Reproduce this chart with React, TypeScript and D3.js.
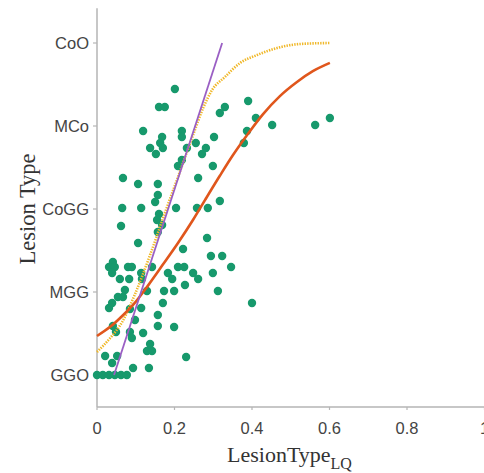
import React from "react";
import * as d3 from "d3";

const categories = ["GGO", "MGG", "CoGG", "MCo", "CoO"];
const xTicks = [0, 0.2, 0.4, 0.6, 0.8, 1];

// scatter: LesionType_LQ (x) vs jittered lesion type (y)
const pointsX = [
  0.201, 0.16, 0.175, 0.39, 0.33, 0.317, 0.41, 0.452, 0.563, 0.601,
  0.119, 0.219, 0.219, 0.168, 0.163, 0.137, 0.17, 0.152, 0.232, 0.255,
  0.281, 0.271, 0.302, 0.387, 0.379, 0.219, 0.209, 0.299, 0.067, 0.106,
  0.157, 0.261, 0.157, 0.317, 0.15, 0.065, 0.114, 0.204, 0.258, 0.286,
  0.16, 0.155, 0.168, 0.157, 0.062, 0.106, 0.284, 0.222, 0.294, 0.323,
  0.346, 0.299, 0.031, 0.041, 0.046, 0.039, 0.08, 0.09, 0.059, 0.083,
  0.114, 0.142, 0.183, 0.194, 0.209, 0.225, 0.248, 0.261, 0.116, 0.072,
  0.054, 0.067, 0.129, 0.173, 0.199, 0.227, 0.312, 0.4, 0.031, 0.039,
  0.085, 0.114, 0.17, 0.098, 0.157, 0.157, 0.199, 0.041, 0.049, 0.085,
  0.09, 0.119, 0.137, 0.129, 0.142, 0.23, 0.021, 0.039, 0.052, 0.093,
  0.134, 0.0, 0.015, 0.031, 0.046, 0.062, 0.077,
];
const pointsY = [
  3.446, 3.229, 3.229, 3.301, 3.229, 3.157, 3.096, 3.012, 3.012, 3.096,
  2.94, 2.94, 2.867, 2.867, 2.795, 2.735, 2.735, 2.663, 2.735, 2.795,
  2.735, 2.663, 2.867, 2.94, 2.795, 2.59, 2.518, 2.518, 2.373, 2.301,
  2.301, 2.373, 2.169, 2.096, 2.084, 2.012, 2.012, 2.012, 2.012, 2.012,
  1.94, 1.867, 1.807, 1.723, 1.795, 1.59, 1.651, 1.518, 1.434, 1.434,
  1.301, 1.229, 1.301, 1.361, 1.301, 1.229, 1.301, 1.301, 1.157, 1.157,
  1.229, 1.301, 1.229, 1.157, 1.301, 1.301, 1.229, 1.157, 1.157, 1.024,
  0.94, 0.94, 1.012, 1.012, 1.012, 1.084, 1.012, 0.867, 0.807, 0.867,
  0.795, 0.807, 0.867, 0.663, 0.723, 0.59, 0.578, 0.59, 0.518, 0.518,
  0.446, 0.506, 0.373, 0.289, 0.289, 0.217, 0.229, 0.145, 0.229, 0.084,
  0.084, 0, 0, 0, 0, 0, 0,
];

// fitted curves
const orangeX = [0, 0.034, 0.067, 0.103, 0.132, 0.17, 0.209, 0.248, 0.279, 0.317, 0.351, 0.395, 0.428, 0.472, 0.516, 0.557, 0.601];
const orangeY = [0.47, 0.58, 0.72, 0.9, 1.08, 1.33, 1.59, 1.87, 2.11, 2.4, 2.65, 2.94, 3.14, 3.36, 3.53, 3.66, 3.76];
const yellowX = [0, 0.034, 0.065, 0.095, 0.137, 0.175, 0.214, 0.248, 0.274, 0.297, 0.33, 0.369, 0.413, 0.465, 0.524, 0.601];
const yellowY = [0.277, 0.446, 0.639, 0.94, 1.446, 1.95, 2.45, 2.892, 3.217, 3.434, 3.59, 3.759, 3.855, 3.94, 3.988, 4.0];
const purpleX = [0.044, 0.323];
const purpleY = [0, 4.0];

const W = 484;
const H = 473;

export default function App() {
  const x = d3.scaleLinear().domain([0, 1]).range([97, 484.5]);
  const y = d3.scaleLinear().domain([0, 4]).range([375, 43]);
  const yBottom = y(-0.385);
  const yTop = y(4.42);

  const line = d3
    .line<[number, number]>()
    .x((d) => x(d[0]))
    .y((d) => y(d[1]))
    .curve(d3.curveMonotoneX);

  const zip = (a: number[], b: number[]) => a.map((v, i) => [v, b[i]] as [number, number]);

  const tickColor = "#444";
  const axisColor = "#b5b5b5";

  return (
    <svg
      width={W}
      height={H}
      style={{ position: "absolute", left: 0, top: 0, background: "#fff" }}
    >
      {/* axes */}
      <line x1={x(0)} x2={x(0)} y1={yTop} y2={yBottom} stroke={axisColor} strokeWidth={1.5} />
      <line x1={x(0)} x2={W} y1={yBottom} y2={yBottom} stroke={axisColor} strokeWidth={1.5} />
      {categories.map((c, i) => (
        <g key={c}>
          <line x1={x(0) - 4} x2={x(0)} y1={y(i)} y2={y(i)} stroke={axisColor} strokeWidth={1.2} />
          <text
            x={x(0) - 8}
            y={y(i)}
            dy="0.36em"
            textAnchor="end"
            fontFamily="Liberation Sans, Arial, sans-serif"
            fontSize={16.5}
            fill={tickColor}
          >
            {c}
          </text>
        </g>
      ))}
      {xTicks.map((t) => (
        <g key={t}>
          <line x1={x(t)} x2={x(t)} y1={yBottom} y2={yBottom + 3} stroke={axisColor} strokeWidth={1.2} />
          <text
            x={x(t)}
            y={yBottom + 27}
            textAnchor="middle"
            fontFamily="Liberation Sans, Arial, sans-serif"
            fontSize={16.5}
            fill={tickColor}
          >
            {String(t)}
          </text>
        </g>
      ))}

      {/* axis titles */}
      <text
        transform={`translate(35, ${y(2)}) rotate(-90)`}
        textAnchor="middle"
        fontFamily="Liberation Serif, Times New Roman, serif"
        fontSize={22.5}
        fill="#333"
      >
        Lesion Type
      </text>
      <text
        x={227}
        y={462}
        textAnchor="start"
        fontFamily="Liberation Serif, Times New Roman, serif"
        fontSize={22}
        fill="#333"
      >
        LesionType
        <tspan fontSize={16} dy={7}>LQ</tspan>
      </text>

      {/* points */}
      {pointsX.map((px, i) => (
        <circle key={i} cx={x(px)} cy={y(pointsY[i])} r={4.2} fill="#17996c" />
      ))}

      {/* curves */}
      <path d={line(zip(yellowX, yellowY)) || ""} fill="none" stroke="#f0b82a" strokeWidth={2.6} strokeDasharray="1.4 1.2" />
      <path d={line(zip(orangeX, orangeY)) || ""} fill="none" stroke="#e0561c" strokeWidth={2.6} />
      <path d={line(zip(purpleX, purpleY)) || ""} fill="none" stroke="#9a5fc4" strokeWidth={1.8} />
    </svg>
  );
}
